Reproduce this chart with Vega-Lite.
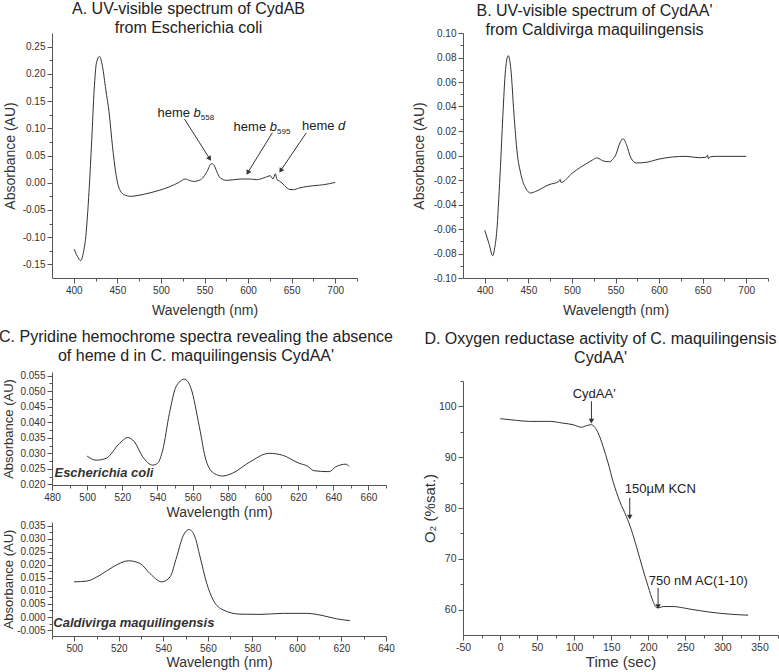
{
 "$schema": "https://vega.github.io/schema/vega-lite/v6.json",
 "autosize": {"type": "none"},
 "padding": {"left": 52, "top": 33, "right": 727, "bottom": 639},
 "background": "white",
 "config": {
  "view": {"stroke": null},
  "font": "Liberation Sans",
  "axis": {"domainColor": "#555", "tickColor": "#555", "labelColor": "#333", "titleColor": "#333", "labelFont": "Liberation Sans", "titleFont": "Liberation Sans", "labelFontSize": 10, "titleFontSize": 14, "titleFontWeight": "normal", "grid": false, "labelFlush": false, "labelOverlap": false, "labelPadding": 2, "domainWidth": 1, "tickWidth": 1},
  "title": {"font": "Liberation Sans", "fontSize": 16, "fontWeight": "normal", "color": "#222", "anchor": "middle", "frame": "group", "baseline": "bottom", "lineHeight": 19},
  "line": {"color": "#333", "strokeWidth": 1},
  "rule": {"color": "#333", "strokeWidth": 1},
  "text": {"font": "Liberation Sans", "color": "#222"}
 },
 "datasets": {
  "specA": [
   {"wl": 400.5, "abs": -0.122}, {"wl": 404, "abs": -0.135}, {"wl": 408, "abs": -0.143}, {"wl": 411, "abs": -0.128}, {"wl": 413.8, "abs": -0.0985}, {"wl": 415.5, "abs": -0.065}, {"wl": 417.6, "abs": -0.013}, {"wl": 420.6, "abs": 0.079}, {"wl": 423.4, "abs": 0.171}, {"wl": 426, "abs": 0.22}, {"wl": 429.5, "abs": 0.232}, {"wl": 433, "abs": 0.213}, {"wl": 436.7, "abs": 0.171}, {"wl": 440.6, "abs": 0.128}, {"wl": 444.4, "abs": 0.067}, {"wl": 448.2, "abs": 0.018}, {"wl": 452, "abs": -0.01}, {"wl": 457.8, "abs": -0.022}, {"wl": 465.4, "abs": -0.025}, {"wl": 475, "abs": -0.023}, {"wl": 486.4, "abs": -0.019}, {"wl": 498, "abs": -0.014}, {"wl": 510.9, "abs": -0.0068}, {"wl": 520, "abs": 0.0}, {"wl": 528, "abs": 0.0068}, {"wl": 533, "abs": 0.004}, {"wl": 537.6, "abs": 0.0024}, {"wl": 545.3, "abs": 0.0055}, {"wl": 550, "abs": 0.013}, {"wl": 553, "abs": 0.021}, {"wl": 557.9, "abs": 0.0349}, {"wl": 560, "abs": 0.034}, {"wl": 562.5, "abs": 0.027}, {"wl": 565, "abs": 0.017}, {"wl": 568.2, "abs": 0.0086}, {"wl": 575.9, "abs": 0.0043}, {"wl": 591, "abs": 0.0068}, {"wl": 602.6, "abs": 0.0068}, {"wl": 610, "abs": 0.0055}, {"wl": 614, "abs": 0.0068}, {"wl": 620, "abs": 0.01}, {"wl": 625.5, "abs": 0.0128}, {"wl": 628.6, "abs": 0.0068}, {"wl": 631.3, "abs": 0.0165}, {"wl": 633.2, "abs": 0.0055}, {"wl": 636, "abs": 0.003}, {"wl": 639, "abs": -0.0006}, {"wl": 644.7, "abs": -0.0097}, {"wl": 648, "abs": -0.0125}, {"wl": 652.3, "abs": -0.0128}, {"wl": 658, "abs": -0.01}, {"wl": 663.7, "abs": -0.0079}, {"wl": 675.2, "abs": -0.0055}, {"wl": 686.6, "abs": -0.0037}, {"wl": 700, "abs": 0.0006}
  ],
  "arrA": [
   {"wl": 527, "abs": 0.117, "wl2": 556, "abs2": 0.044},
   {"wl": 627.8, "abs": 0.0917, "wl2": 599.6, "abs2": 0.0185},
   {"wl": 666.8, "abs": 0.0917, "wl2": 637.4, "abs2": 0.0222}
  ],
  "headA": [
   {"id": "b558", "wl": 556, "abs": 0.044},
   {"id": "b595", "wl": 599.6, "abs": 0.0185},
   {"id": "d", "wl": 637.4, "abs": 0.0222}
  ],
  "lblAn": [
   {"wl": 496, "abs": 0.121, "label": "heme"},
   {"wl": 583.4, "abs": 0.0954, "label": "heme"},
   {"wl": 661.9, "abs": 0.0972, "label": "heme"}
  ],
  "lblAi": [
   {"wl": 537.4, "abs": 0.121, "label": "b"},
   {"wl": 624.8, "abs": 0.0954, "label": "b"},
   {"wl": 703.3, "abs": 0.0972, "label": "d"}
  ],
  "lblAs": [
   {"wl": 545.8, "abs": 0.1155, "label": "558"},
   {"wl": 633.2, "abs": 0.0899, "label": "595"}
  ],
  "specB": [
   {"wl": 400, "abs": -0.0611}, {"wl": 404.6, "abs": -0.0714}, {"wl": 409.2, "abs": -0.0818}, {"wl": 411.5, "abs": -0.075}, {"wl": 414.2, "abs": -0.0578}, {"wl": 416, "abs": -0.036}, {"wl": 418, "abs": -0.0089}, {"wl": 420.7, "abs": 0.0319}, {"wl": 423.8, "abs": 0.07}, {"wl": 426.9, "abs": 0.0815}, {"wl": 430, "abs": 0.07}, {"wl": 433.4, "abs": 0.0347}, {"wl": 437.2, "abs": 0.002}, {"wl": 441.1, "abs": -0.0143}, {"wl": 446.8, "abs": -0.0265}, {"wl": 452.6, "abs": -0.0306}, {"wl": 458.4, "abs": -0.0293}, {"wl": 473.7, "abs": -0.0238}, {"wl": 485, "abs": -0.0212}, {"wl": 486.5, "abs": -0.0195}, {"wl": 487.5, "abs": -0.022}, {"wl": 500.5, "abs": -0.0143}, {"wl": 510, "abs": -0.0095}, {"wl": 517.8, "abs": -0.0061}, {"wl": 524, "abs": -0.0035}, {"wl": 528.2, "abs": -0.002}, {"wl": 531, "abs": -0.0025}, {"wl": 535, "abs": -0.0042}, {"wl": 542.8, "abs": -0.0051}, {"wl": 547, "abs": -0.003}, {"wl": 550.4, "abs": 0.0007}, {"wl": 555, "abs": 0.0102}, {"wl": 558.8, "abs": 0.0137}, {"wl": 562.6, "abs": 0.0088}, {"wl": 567.7, "abs": -0.002}, {"wl": 574.1, "abs": -0.0061}, {"wl": 584.9, "abs": -0.0056}, {"wl": 600.2, "abs": -0.0029}, {"wl": 615.5, "abs": -0.0012}, {"wl": 630.9, "abs": -0.0007}, {"wl": 646.1, "abs": -0.0018}, {"wl": 653.8, "abs": -0.0015}, {"wl": 655.5, "abs": 0.0003}, {"wl": 656.6, "abs": -0.0027}, {"wl": 658, "abs": -0.0012}, {"wl": 665.6, "abs": -0.0007}, {"wl": 700, "abs": -0.0007}
  ],
  "pyrEc": [
   {"wl": 500, "abs": 0.0291}, {"wl": 505.1, "abs": 0.0278}, {"wl": 510.8, "abs": 0.0284}, {"wl": 518.4, "abs": 0.0332}, {"wl": 523.1, "abs": 0.0351}, {"wl": 526.9, "abs": 0.0337}, {"wl": 531.6, "abs": 0.0289}, {"wl": 537.3, "abs": 0.0262}, {"wl": 540.1, "abs": 0.0268}, {"wl": 543, "abs": 0.0311}, {"wl": 546.8, "abs": 0.0429}, {"wl": 550.6, "abs": 0.0515}, {"wl": 555.3, "abs": 0.0539}, {"wl": 559.1, "abs": 0.0509}, {"wl": 563.8, "abs": 0.0386}, {"wl": 567.6, "abs": 0.0278}, {"wl": 572.3, "abs": 0.0235}, {"wl": 577, "abs": 0.0227}, {"wl": 582.7, "abs": 0.0236}, {"wl": 592.2, "abs": 0.0271}, {"wl": 603.6, "abs": 0.03}, {"wl": 611.1, "abs": 0.0294}, {"wl": 620.6, "abs": 0.0268}, {"wl": 625.3, "abs": 0.0259}, {"wl": 629.1, "abs": 0.0244}, {"wl": 637.6, "abs": 0.0241}, {"wl": 641.5, "abs": 0.0257}, {"wl": 647.2, "abs": 0.0265}, {"wl": 649, "abs": 0.0258}
  ],
  "pyrCm": [
   {"wl": 499.9, "abs": 0.0135}, {"wl": 505.6, "abs": 0.0138}, {"wl": 511.6, "abs": 0.0161}, {"wl": 517.5, "abs": 0.0193}, {"wl": 524.3, "abs": 0.0216}, {"wl": 529.5, "abs": 0.0206}, {"wl": 534, "abs": 0.0167}, {"wl": 539.3, "abs": 0.0135}, {"wl": 543, "abs": 0.0154}, {"wl": 546, "abs": 0.0231}, {"wl": 549, "abs": 0.0314}, {"wl": 551.6, "abs": 0.0336}, {"wl": 554.2, "abs": 0.0308}, {"wl": 556.5, "abs": 0.0231}, {"wl": 559.5, "abs": 0.0129}, {"wl": 562.4, "abs": 0.0065}, {"wl": 566.9, "abs": 0.0027}, {"wl": 574.4, "abs": 0.0011}, {"wl": 583.4, "abs": 0.001}, {"wl": 593.9, "abs": 0.0014}, {"wl": 604.4, "abs": 0.0014}, {"wl": 611.8, "abs": 0.0005}, {"wl": 617.8, "abs": -0.0007}, {"wl": 623.8, "abs": -0.0014}
  ],
  "o2": [
   {"t": 0.4, "o2": 97.58}, {"t": 22, "o2": 97.25}, {"t": 40, "o2": 97.05}, {"t": 67, "o2": 97.05}, {"t": 85, "o2": 96.7}, {"t": 98.5, "o2": 96.4}, {"t": 109.7, "o2": 95.9}, {"t": 116.5, "o2": 96.2}, {"t": 123.2, "o2": 96.4}, {"t": 127.8, "o2": 95.9}, {"t": 132.3, "o2": 94.8}, {"t": 139, "o2": 92.1}, {"t": 145.7, "o2": 88.9}, {"t": 152.5, "o2": 85.2}, {"t": 161.5, "o2": 81.3}, {"t": 170.5, "o2": 78.3}, {"t": 177.2, "o2": 75.7}, {"t": 184, "o2": 72.4}, {"t": 193, "o2": 67.8}, {"t": 199.7, "o2": 64.6}, {"t": 206.5, "o2": 61.6}, {"t": 211, "o2": 60.4}, {"t": 215.5, "o2": 60.4}, {"t": 220, "o2": 60.6}, {"t": 233.5, "o2": 60.6}, {"t": 256, "o2": 60.1}, {"t": 283, "o2": 59.5}, {"t": 310, "o2": 59.1}, {"t": 334.7, "o2": 58.9}
  ],
  "arrD": [
   {"t": 123.3, "o2": 101.0, "o2e": 97.1},
   {"t": 175, "o2": 82.0, "o2e": 78.2},
   {"t": 213.2, "o2": 64.25, "o2e": 60.6}
  ],
  "headD": [
   {"t": 123.3, "o2": 97.1},
   {"t": 175, "o2": 78.2},
   {"t": 213.2, "o2": 60.6}
  ]
 },
 "spacing": 411,
 "bounds": "flush",
 "hconcat": [
  {
   "spacing": 94,
   "bounds": "flush",
   "vconcat": [
    {
     "width": 305,
     "height": 245,
     "title": {"text": ["A. UV-visible spectrum of CydAB", "from Escherichia coli"], "dx": -16, "offset": -3},
     "encoding": {
      "x": {"field": "wl", "type": "quantitative", "scale": {"domain": [375, 725], "nice": false, "zero": false},
       "axis": {"title": "Wavelength (nm)", "titlePadding": 8, "format": "d", "values": [400, 425, 450, 475, 500, 525, 550, 575, 600, 625, 650, 675, 700, 725], "labelExpr": "datum.value % 50 === 0 ? datum.label : ''", "tickSize": {"condition": {"test": "datum.value % 50 === 0", "value": 5}, "value": 3}}},
      "y": {"field": "abs", "type": "quantitative", "scale": {"domain": [-0.175, 0.275], "nice": false, "zero": false},
       "axis": {"title": "Absorbance (AU)", "titlePadding": 5, "format": ".2f", "values": [-0.15, -0.125, -0.1, -0.075, -0.05, -0.025, 0, 0.025, 0.05, 0.075, 0.1, 0.125, 0.15, 0.175, 0.2, 0.225, 0.25], "labelExpr": "abs(round(datum.value*1000)) % 50 === 0 ? replace(datum.label, '\u2212', '-') : ''", "tickSize": {"condition": {"test": "abs(round(datum.value*1000)) % 50 === 0", "value": 5}, "value": 3}}}
     },
     "layer": [
      {"data": {"name": "specA"}, "mark": {"type": "line", "interpolate": "monotone"}},
      {"data": {"name": "arrA"}, "mark": {"type": "rule"}, "encoding": {"x2": {"field": "wl2"}, "y2": {"field": "abs2"}}},
      {"data": {"name": "headA"}, "transform": [{"filter": "datum.id === 'b558'"}], "mark": {"type": "point", "shape": "triangle-down", "filled": true, "size": 30, "color": "#333", "opacity": 1, "angle": -32}},
      {"data": {"name": "headA"}, "transform": [{"filter": "datum.id === 'b595'"}], "mark": {"type": "point", "shape": "triangle-down", "filled": true, "size": 30, "color": "#333", "opacity": 1, "angle": 32}},
      {"data": {"name": "headA"}, "transform": [{"filter": "datum.id === 'd'"}], "mark": {"type": "point", "shape": "triangle-down", "filled": true, "size": 30, "color": "#333", "opacity": 1, "angle": 34}},
      {"data": {"name": "lblAn"}, "mark": {"type": "text", "align": "left", "baseline": "alphabetic", "fontSize": 13}, "encoding": {"text": {"field": "label"}}},
      {"data": {"name": "lblAi"}, "mark": {"type": "text", "align": "left", "baseline": "alphabetic", "fontSize": 13, "fontStyle": "italic"}, "encoding": {"text": {"field": "label"}}},
      {"data": {"name": "lblAs"}, "mark": {"type": "text", "align": "left", "baseline": "alphabetic", "fontSize": 8}, "encoding": {"text": {"field": "label"}}}
     ]
    },
    {
     "spacing": 37,
     "bounds": "flush",
     "vconcat": [
      {
       "width": 334,
       "height": 113,
       "title": {"text": ["C. Pyridine hemochrome spectra revealing the absence", "of heme d in C. maquilingensis CydAA'"], "dx": -23, "offset": 7},
       "encoding": {
        "x": {"field": "wl", "type": "quantitative", "scale": {"domain": [480, 670], "nice": false, "zero": false},
         "axis": {"title": "Wavelength (nm)", "titlePadding": 3, "format": "d", "values": [480, 490, 500, 510, 520, 530, 540, 550, 560, 570, 580, 590, 600, 610, 620, 630, 640, 650, 660, 670], "labelExpr": "datum.value % 20 === 0 ? datum.label : ''", "tickSize": {"condition": {"test": "datum.value % 20 === 0", "value": 5}, "value": 3}}},
        "y": {"field": "abs", "type": "quantitative", "scale": {"domain": [0.0198, 0.0562], "nice": false, "zero": false},
         "axis": {"title": "Absorbance (AU)", "titleFontSize": 13, "titlePadding": 4, "format": ".3f", "values": [0.02, 0.0225, 0.025, 0.0275, 0.03, 0.0325, 0.035, 0.0375, 0.04, 0.0425, 0.045, 0.0475, 0.05, 0.0525, 0.055], "labelExpr": "round(datum.value*10000) % 50 === 0 ? datum.label : ''", "tickSize": {"condition": {"test": "round(datum.value*10000) % 50 === 0", "value": 5}, "value": 3}}}
       },
       "layer": [
        {"data": {"name": "pyrEc"}, "mark": {"type": "line", "interpolate": "monotone"}},
        {"data": {"values": [{"wl": 481.4, "abs": 0.02235, "label": "Escherichia coli"}]}, "mark": {"type": "text", "align": "left", "baseline": "alphabetic", "fontSize": 13, "fontStyle": "italic", "fontWeight": "bold", "color": "#333"}, "encoding": {"text": {"field": "label"}}}
       ]
      },
      {
       "width": 334,
       "height": 114,
       "encoding": {
        "x": {"field": "wl", "type": "quantitative", "scale": {"domain": [490, 640], "nice": false, "zero": false},
         "axis": {"title": "Wavelength (nm)", "titlePadding": 2, "format": "d", "values": [490, 500, 510, 520, 530, 540, 550, 560, 570, 580, 590, 600, 610, 620, 630, 640], "labelExpr": "datum.value % 20 === 0 ? datum.label : ''", "tickSize": {"condition": {"test": "datum.value % 20 === 0", "value": 5}, "value": 3}}},
        "y": {"field": "abs", "type": "quantitative", "scale": {"domain": [-0.0073, 0.0365], "nice": false, "zero": false},
         "axis": {"title": "Absorbance (AU)", "titleFontSize": 13, "titlePadding": 1, "format": ".3f", "values": [-0.005, -0.0025, 0, 0.0025, 0.005, 0.0075, 0.01, 0.0125, 0.015, 0.0175, 0.02, 0.0225, 0.025, 0.0275, 0.03, 0.0325, 0.035], "labelExpr": "abs(round(datum.value*10000)) % 50 === 0 ? replace(datum.label, '\u2212', '-') : ''", "tickSize": {"condition": {"test": "abs(round(datum.value*10000)) % 50 === 0", "value": 5}, "value": 3}}}
       },
       "layer": [
        {"data": {"name": "pyrCm"}, "mark": {"type": "line", "interpolate": "monotone"}},
        {"data": {"values": [{"wl": 490.6, "abs": -0.00373, "label": "Caldivirga maquilingensis"}]}, "mark": {"type": "text", "align": "left", "baseline": "alphabetic", "fontSize": 13, "fontStyle": "italic", "fontWeight": "bold", "color": "#333"}, "encoding": {"text": {"field": "label"}}}
       ]
      }
     ]
    }
   ]
  },
  {
   "spacing": 103,
   "bounds": "flush",
   "vconcat": [
    {
     "width": 305,
     "height": 245,
     "title": {"text": ["B. UV-visible spectrum of CydAA'", "from Caldivirga maquilingensis"], "dx": -21, "offset": -10},
     "encoding": {
      "x": {"field": "wl", "type": "quantitative", "scale": {"domain": [375, 725], "nice": false, "zero": false},
       "axis": {"title": "Wavelength (nm)", "titlePadding": 8, "format": "d", "values": [400, 425, 450, 475, 500, 525, 550, 575, 600, 625, 650, 675, 700, 725], "labelExpr": "datum.value % 50 === 0 ? datum.label : ''", "tickSize": {"condition": {"test": "datum.value % 50 === 0", "value": 5}, "value": 3}}},
      "y": {"field": "abs", "type": "quantitative", "scale": {"domain": [-0.1, 0.1], "nice": false, "zero": false},
       "axis": {"title": "Absorbance (AU)", "titlePadding": 7, "format": ".2f", "values": [-0.1, -0.09, -0.08, -0.07, -0.06, -0.05, -0.04, -0.03, -0.02, -0.01, 0, 0.01, 0.02, 0.03, 0.04, 0.05, 0.06, 0.07, 0.08, 0.09, 0.1], "labelExpr": "abs(round(datum.value*100)) % 2 === 0 ? replace(datum.label, '\u2212', '-') : ''", "tickSize": {"condition": {"test": "abs(round(datum.value*100)) % 2 === 0", "value": 5}, "value": 3}}}
     },
     "layer": [
      {"data": {"name": "specB"}, "mark": {"type": "line", "interpolate": "monotone"}}
     ]
    },
    {
     "width": 315,
     "height": 254,
     "title": {"text": ["D. Oxygen reductase activity of C. maquilingensis", "CydAA'"], "dx": -20, "offset": 10},
     "encoding": {
      "x": {"field": "t", "type": "quantitative", "scale": {"domain": [-50, 375], "nice": false, "zero": false},
       "axis": {"title": "Time (sec)", "titleFontSize": 15, "labelFontSize": 10.5, "titlePadding": 2, "format": "d", "values": [-50, -25, 0, 25, 50, 75, 100, 125, 150, 175, 200, 225, 250, 275, 300, 325, 350, 375], "labelExpr": "datum.value % 50 === 0 ? replace(datum.label, '\u2212', '-') : ''", "tickSize": {"condition": {"test": "datum.value % 50 === 0", "value": 5}, "value": 3}}},
      "y": {"field": "o2", "type": "quantitative", "scale": {"domain": [55, 105], "nice": false, "zero": false},
       "axis": {"title": "O₂ (%sat.)", "titleFontSize": 15, "labelFontSize": 10.5, "titlePadding": 1, "format": "d", "values": [60, 65, 70, 75, 80, 85, 90, 95, 100, 105], "labelExpr": "datum.value % 10 === 0 ? datum.label : ''", "tickSize": {"condition": {"test": "datum.value % 10 === 0", "value": 5}, "value": 3}}}
     },
     "layer": [
      {"data": {"name": "o2"}, "mark": {"type": "line", "interpolate": "monotone"}},
      {"data": {"name": "arrD"}, "mark": {"type": "rule"}, "encoding": {"y2": {"field": "o2e"}}},
      {"data": {"name": "headD"}, "mark": {"type": "point", "shape": "triangle-down", "filled": true, "size": 30, "color": "#333", "opacity": 1}},
      {"data": {"values": [{"t": 127, "o2": 101.65, "label": "CydAA'"}]}, "mark": {"type": "text", "align": "center", "baseline": "alphabetic", "fontSize": 13}, "encoding": {"text": {"field": "label"}}},
      {"data": {"values": [{"t": 168.3, "o2": 82.95, "label": "150µM KCN"}, {"t": 200.6, "o2": 64.8, "label": "750 nM AC(1-10)"}]}, "mark": {"type": "text", "align": "left", "baseline": "alphabetic", "fontSize": 13}, "encoding": {"text": {"field": "label"}}}
     ]
    }
   ]
  }
 ]
}
